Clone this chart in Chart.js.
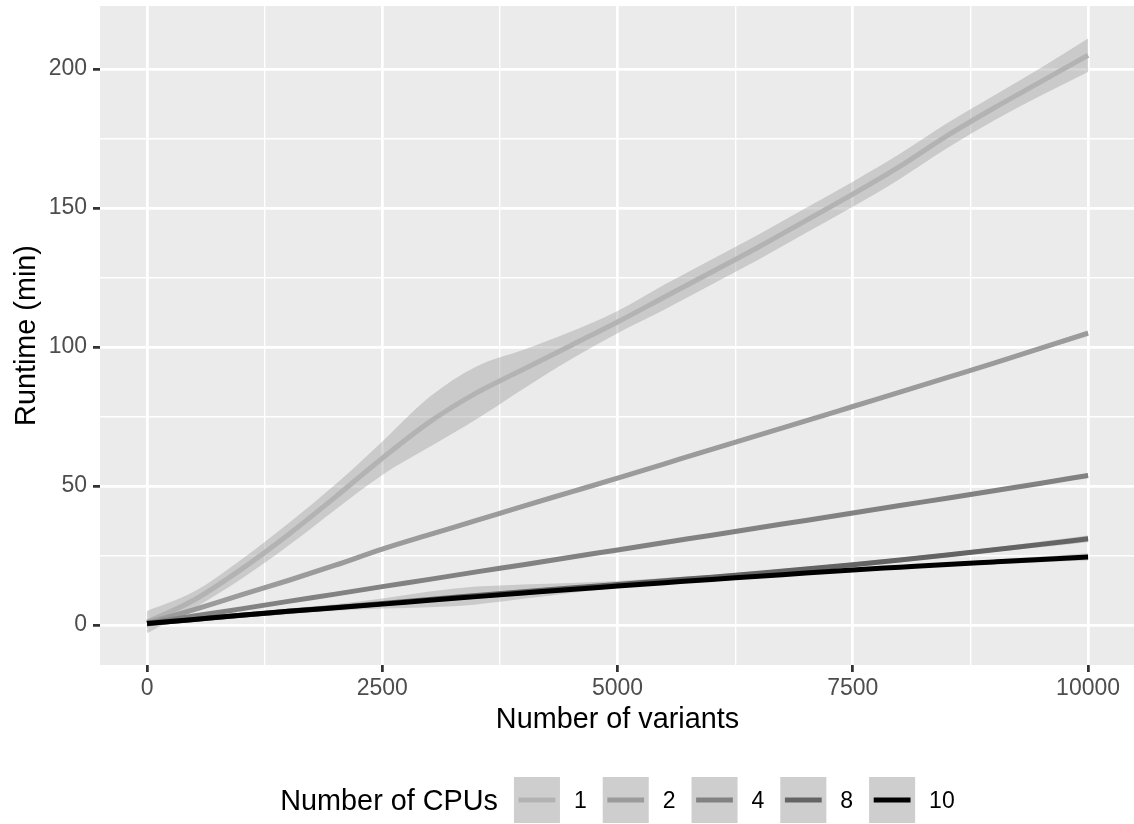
<!DOCTYPE html>
<html>
<head>
<meta charset="utf-8">
<script src="https://cdn.jsdelivr.net/npm/chart.js@4"></script>
<style>
html,body{margin:0;padding:0;background:#ffffff;}
#wrap{width:1134px;height:824px;}
</style>
</head>
<body>
<div id="wrap"><canvas id="c" width="1134" height="824"></canvas></div>
<script>
// ---------------- data ----------------
const variants = [0, 500, 1000, 1500, 2000, 2500, 3000, 3500, 4000, 4500, 5000, 5500, 6000, 6500, 7000, 7500, 8000, 8500, 9000, 9500, 10000];

const cpuLabels = ['1', '2', '4', '8', '10'];
const cpuColors = ['#B3B3B3', '#9B9B9B', '#828282', '#646464', '#000000'];

const runtimeCpu1  = [1, 9, 20, 32.5, 46, 60, 73, 83.5, 92, 100.5, 109, 118, 127, 136, 145.5, 155, 165, 176, 186, 195.5, 205];
const runtimeCpu2  = [0.5, 5.5, 10.8, 16, 21.5, 27.3, 32.5, 37.6, 42.8, 47.8, 52.8, 58, 63.2, 68.3, 73.4, 78.6, 83.8, 89, 94.2, 99.6, 105];
const runtimeCpu4  = [0.5, 3.2, 5.8, 8.5, 11.1, 13.8, 16.4, 19.1, 21.7, 24.4, 27, 29.7, 32.3, 35, 37.6, 40.3, 43, 45.6, 48.3, 51, 53.8];
const runtimeCpu8  = [0.5, 2, 3.5, 4.9, 6.3, 7.7, 9.2, 10.6, 12, 13.3, 14.6, 15.9, 17.2, 18.6, 20.1, 21.7, 23.4, 25.2, 27.1, 29, 31];
const runtimeCpu10 = [0.5, 2, 3.5, 4.9, 6.2, 7.5, 8.9, 10.2, 11.5, 12.8, 14, 15.2, 16.4, 17.5, 18.7, 19.8, 20.8, 21.8, 22.7, 23.6, 24.5];

// half-width of the confidence band (min)
const ciCpu1  = [4, 3, 3.5, 4, 4.5, 6, 9, 9.5, 7, 5, 4, 4.5, 4.5, 4.5, 4.5, 4.5, 4.5, 4.5, 4.5, 5, 6];
const ciCpu2  = [1.5, 0.8, 0.7, 0.7, 0.7, 0.8, 0.8, 0.8, 0.7, 0.7, 0.7, 0.7, 0.7, 0.7, 0.7, 0.7, 0.7, 0.7, 0.7, 0.8, 1];
const ciCpu4  = [1, 0.5, 0.5, 0.5, 0.5, 0.5, 0.5, 0.5, 0.5, 0.5, 0.5, 0.5, 0.5, 0.5, 0.5, 0.5, 0.5, 0.5, 0.5, 0.6, 0.8];
const ciCpu8  = [1, 0.8, 0.8, 1, 1.2, 1.8, 2.8, 3.2, 2.6, 1.8, 1.2, 1, 0.8, 0.8, 0.8, 0.8, 0.8, 0.8, 0.8, 1, 1.2];
const ciCpu10 = [0.8, 0.6, 0.6, 0.6, 0.6, 0.7, 0.8, 0.8, 0.7, 0.6, 0.6, 0.6, 0.6, 0.6, 0.6, 0.6, 0.6, 0.7, 0.8, 1, 1.3];

const xMajorTicks = [0, 2500, 5000, 7500, 10000];
const xMinorTicks = [1250, 3750, 6250, 8750];
const yMajorTicks = [0, 50, 100, 150, 200];
const yMinorTicks = [25, 75, 125, 175];

const xTitle = 'Number of variants';
const yTitle = 'Runtime (min)';
const legendTitle = 'Number of CPUs';

// ---------------- build ----------------
const FONT = '"Liberation Sans", Arial, Helvetica, sans-serif';
const TITLE_PX = 28.8, TICK_PX = 23;
const seriesY = [runtimeCpu1, runtimeCpu2, runtimeCpu4, runtimeCpu8, runtimeCpu10];
const seriesCI = [ciCpu1, ciCpu2, ciCpu4, ciCpu8, ciCpu10];
const BAND_FILL = 'rgba(153,153,153,0.4)';
const LINE_W = 5;

function pts(ys) { return variants.map((x, i) => ({ x: x, y: ys[i] })); }

const datasets = [];
let seq = 0;
seriesY.forEach((ys, s) => {
  const ci = seriesCI[s];
  const lowerIdx = datasets.length;
  datasets.push({
    label: 'lo' + s, data: pts(ys.map((v, i) => v - ci[i])),
    borderWidth: 0, borderColor: 'rgba(0,0,0,0)', pointRadius: 0, fill: false,
    cubicInterpolationMode: 'monotone', order: 100 - seq
  });
  datasets.push({
    label: 'hi' + s, data: pts(ys.map((v, i) => v + ci[i])),
    borderWidth: 0, borderColor: 'rgba(0,0,0,0)', pointRadius: 0,
    fill: { target: lowerIdx }, backgroundColor: BAND_FILL,
    cubicInterpolationMode: 'monotone', order: 100 - seq
  });
  seq++;
  datasets.push({
    label: cpuLabels[s], data: pts(ys),
    borderWidth: LINE_W, borderColor: cpuColors[s], pointRadius: 0, fill: false,
    cubicInterpolationMode: 'monotone', order: 100 - seq
  });
  seq++;
});

const panelBg = {
  id: 'panelBg',
  beforeDraw(chart) {
    const { ctx, chartArea: a } = chart;
    ctx.save();
    ctx.fillStyle = '#ffffff';
    ctx.fillRect(0, 0, chart.width, chart.height);
    ctx.fillStyle = '#EBEBEB';
    ctx.fillRect(a.left, a.top, a.right - a.left, a.bottom - a.top);
    ctx.restore();
  }
};

const decor = {
  id: 'decor',
  afterDraw(chart) {
    const { ctx, chartArea: a } = chart;
    ctx.save();
    ctx.fillStyle = '#000000';
    ctx.font = TITLE_PX + 'px ' + FONT;
    ctx.textAlign = 'center';
    ctx.textBaseline = 'alphabetic';
    const cx = (a.left + 1135) / 2;
    ctx.fillText(xTitle, cx, 728);
    ctx.save();
    ctx.translate(35, (a.top + a.bottom) / 2);
    ctx.rotate(-Math.PI / 2);
    ctx.fillText(yTitle, 0, 0);
    ctx.restore();

    // legend
    const keyW = 46, keyH = 46, gapTxt = 14, gapItem = 16, gapTitle = 16;
    const cy = 800;
    ctx.font = TITLE_PX + 'px ' + FONT;
    const tW = ctx.measureText(legendTitle).width;
    ctx.font = TICK_PX + 'px ' + FONT;
    const lw = cpuLabels.map(l => ctx.measureText(l).width);
    let total = tW + gapTitle;
    lw.forEach((w, i) => { total += keyW + gapTxt + w + (i < lw.length - 1 ? gapItem : 0); });
    let x = cx - total / 2;
    ctx.textAlign = 'left';
    ctx.textBaseline = 'alphabetic';
    ctx.fillStyle = '#000000';
    ctx.font = TITLE_PX + 'px ' + FONT;
    ctx.fillText(legendTitle, x, cy + 0.358 * TITLE_PX);
    x += tW + gapTitle;
    cpuLabels.forEach((l, i) => {
      ctx.fillStyle = '#F2F2F2';
      ctx.fillRect(x, cy - keyH / 2, keyW, keyH);
      ctx.fillStyle = BAND_FILL;
      ctx.fillRect(x, cy - keyH / 2, keyW, keyH);
      ctx.strokeStyle = cpuColors[i];
      ctx.lineWidth = LINE_W;
      ctx.lineCap = 'butt';
      ctx.beginPath();
      ctx.moveTo(x + keyW * 0.1, cy);
      ctx.lineTo(x + keyW * 0.9, cy);
      ctx.stroke();
      x += keyW + gapTxt;
      ctx.fillStyle = '#000000';
      ctx.font = TICK_PX + 'px ' + FONT;
      ctx.fillText(l, x, cy + 0.358 * TICK_PX);
      x += lw[i] + gapItem;
    });
    ctx.restore();
  }
};

const isXMajor = v => xMajorTicks.includes(v);
const isYMajor = v => yMajorTicks.includes(v);

new Chart(document.getElementById('c'), {
  type: 'line',
  data: { datasets: datasets },
  plugins: [panelBg, decor],
  options: {
    responsive: false,
    animation: false,
    devicePixelRatio: 1,
    layout: { padding: { top: 6, left: 0, right: 0, bottom: 0 } },
    plugins: { legend: { display: false }, tooltip: { enabled: false }, filler: { propagate: false } },
    elements: { line: { borderCapStyle: 'butt', borderJoinStyle: 'round' } },
    scales: {
      x: {
        type: 'linear', min: -500, max: 10488,
        afterFit(s) { s.height = 159; s.paddingLeft = 0; s.paddingRight = 0; },
        afterBuildTicks(s) { s.ticks = xMajorTicks.concat(xMinorTicks).sort((a, b) => a - b).map(v => ({ value: v })); },
        border: { display: false },
        grid: {
          color: '#FFFFFF',
          lineWidth: c => (c.tick && isXMajor(c.tick.value)) ? 2.76 : 1.38,
          tickLength: 7,
          tickWidth: 2.76,
          tickColor: c => (c.tick && isXMajor(c.tick.value)) ? '#333333' : 'rgba(0,0,0,0)'
        },
        ticks: {
          autoSkip: false, maxRotation: 0, minRotation: 0, padding: 2.5,
          color: '#4D4D4D', font: { family: FONT, size: TICK_PX },
          callback: v => isXMajor(v) ? String(v) : ''
        }
      },
      y: {
        type: 'linear', min: -14.4, max: 222.7,
        afterFit(s) { s.width = 100; s.paddingTop = 0; s.paddingBottom = 0; },
        afterBuildTicks(s) { s.ticks = yMajorTicks.concat(yMinorTicks).sort((a, b) => a - b).map(v => ({ value: v })); },
        border: { display: false },
        grid: {
          color: '#FFFFFF',
          lineWidth: c => (c.tick && isYMajor(c.tick.value)) ? 2.76 : 1.38,
          tickLength: 7,
          tickWidth: 2.76,
          tickColor: c => (c.tick && isYMajor(c.tick.value)) ? '#333333' : 'rgba(0,0,0,0)'
        },
        ticks: {
          autoSkip: false, padding: 6,
          color: '#4D4D4D', font: { family: FONT, size: TICK_PX },
          callback: v => isYMajor(v) ? String(v) : ''
        }
      }
    }
  }
});
</script>
</body>
</html>
